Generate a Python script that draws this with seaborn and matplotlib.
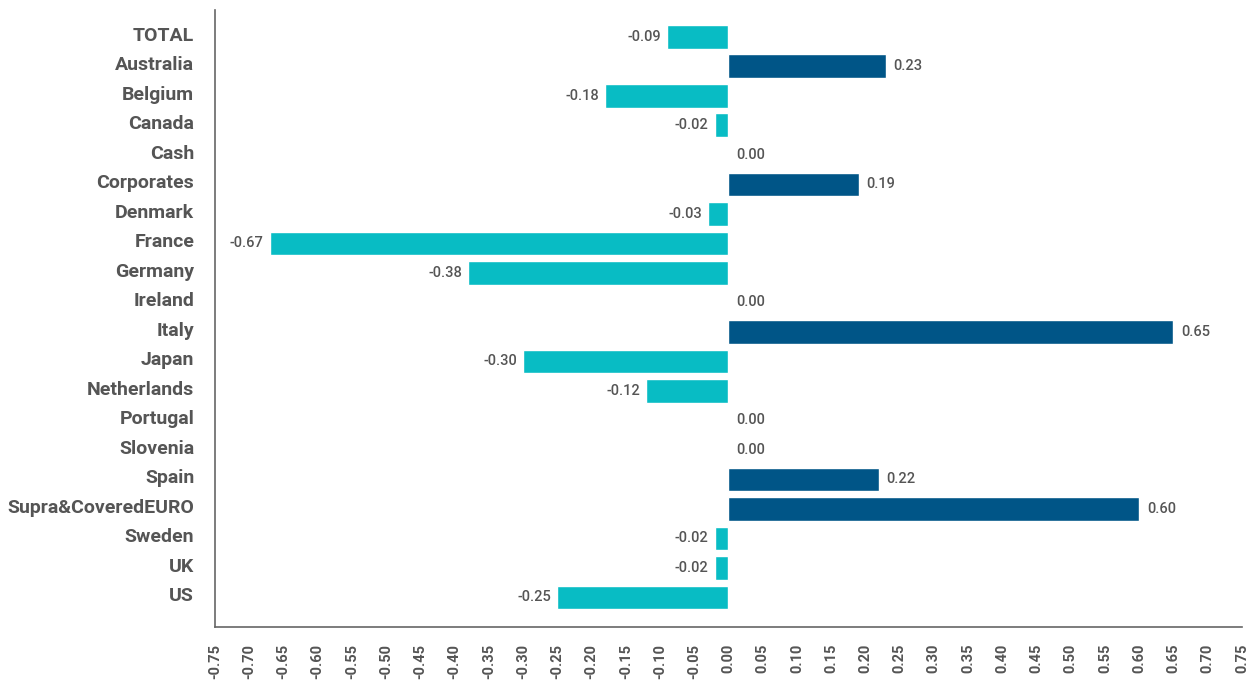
import pandas as pd
import matplotlib.pyplot as plt
import matplotlib.transforms as mtransforms
import seaborn as sns
import numpy as np

# categories and values (top to bottom)
countries = ["TOTAL", "Australia", "Belgium", "Canada", "Cash", "Corporates",
             "Denmark", "France", "Germany", "Ireland", "Italy", "Japan",
             "Netherlands", "Portugal", "Slovenia", "Spain",
             "Supra&CoveredEURO", "Sweden", "UK", "US"]
values = [-0.09, 0.23, -0.18, -0.02, 0.00, 0.19,
          -0.03, -0.67, -0.38, 0.00, 0.65, -0.30,
          -0.12, 0.00, 0.00, 0.22,
          0.60, -0.02, -0.02, -0.25]
xticks = np.round(np.arange(-0.75, 0.7501, 0.05), 2)

df = pd.DataFrame({"name": countries, "value": values})
df["sign"] = np.where(df.value < 0, "neg", "pos")

sns.set_style("white")
plt.rcParams['font.family'] = ['Roboto', 'DejaVu Sans']
grey = "#555555"

fig = plt.figure(figsize=(12.55, 6.8), dpi=100)
ax = fig.add_axes([0.1713, 0.078, 0.8183, 0.907])

sns.barplot(data=df, x="value", y="name", hue="sign",
            palette={"neg": "#08BCC4", "pos": "#005587"},
            width=0.8, legend=False, ax=ax, saturation=1)

# value labels
for i, v in enumerate(values):
    if v < 0:
        ax.text(v - 0.009, i, f"{v:.2f}", ha="right", va="center",
                fontsize=10.5, fontweight="medium", color=grey)
    else:
        ax.text(v + 0.011, i, f"{v:.2f}", ha="left", va="center",
                fontsize=10.5, fontweight="medium", color=grey)

ax.set_xlim(-0.75, 0.75)
ax.set_ylim(20.0, -0.9)
ax.set_xticks(xticks)
ax.set_xticklabels([f"{t:.2f}" for t in xticks], rotation=90,
                   fontsize=10.5, fontweight="bold", color=grey)
ax.tick_params(axis="y", labelsize=14, labelcolor=grey, length=0, pad=15)
ax.tick_params(axis="x", length=0, pad=12)
shift = mtransforms.ScaledTranslation(0, 3 / 100, fig.dpi_scale_trans)
for lab in ax.get_yticklabels():
    lab.set_fontweight("bold")
    lab.set_transform(lab.get_transform() + shift)
ax.set_xlabel("")
ax.set_ylabel("")

sns.despine(ax=ax)
for s in ["left", "bottom"]:
    ax.spines[s].set_color("#666666")
    ax.spines[s].set_linewidth(1.2)

fig.savefig("out.png", dpi=100)
